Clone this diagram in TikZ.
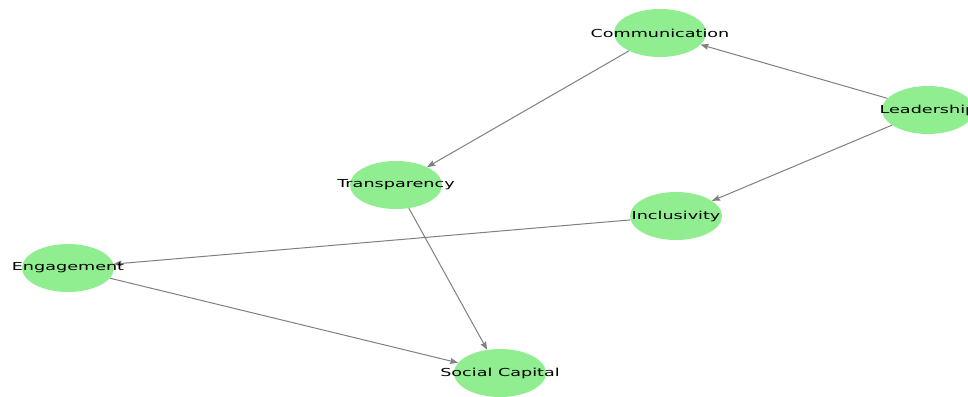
\documentclass[tikz,border=0pt]{standalone}
\usepackage{fontspec}
\setmainfont[FakeStretch=1.6]{DejaVu Sans}
\usetikzlibrary{shapes.geometric,arrows.meta}
\definecolor{nodegreen}{HTML}{90EE90}
\definecolor{edgegray}{HTML}{808080}
\tikzset{
  nd/.style={ellipse, fill=nodegreen, minimum width=92pt, minimum height=48pt, inner sep=0pt},
  lbl/.style={font=\fontsize{11}{13}\selectfont, text=black, inner sep=0pt},
  edge/.style={draw=edgegray, line width=1pt, -{Stealth[length=8pt,width=6pt,inset=1pt]}}
}
\begin{document}
\begin{tikzpicture}[x=1pt,y=-1pt]
\useasboundingbox (0,0) rectangle (968,396);
\clip (0,0) rectangle (968,396);
\fill[white] (0,0) rectangle (968,396);
\node[nd] (comm) at (660,33) {};
\node[nd] (lead) at (928,110) {};
\node[nd] (trans) at (396,185) {};
\node[nd] (incl) at (676,216) {};
\node[nd] (eng) at (68,268) {};
\node[nd] (soc) at (500,373) {};
\draw[edge] (comm) -- (trans);
\draw[edge] (lead) -- (comm);
\draw[edge] (lead) -- (incl);
\draw[edge] (incl) -- (eng);
\draw[edge] (trans) -- (soc);
\draw[edge] (eng) -- (soc);
\node[lbl] (commL) at (comm) {Communication};
\node[lbl] (leadL) at (lead) {Leadership};
\node[lbl] (transL) at (trans) {Transparency};
\node[lbl] (inclL) at (incl) {Inclusivity};
\node[lbl] (engL) at (eng) {Engagement};
\node[lbl] (socL) at (soc) {Social Capital};
\end{tikzpicture}
\end{document}
